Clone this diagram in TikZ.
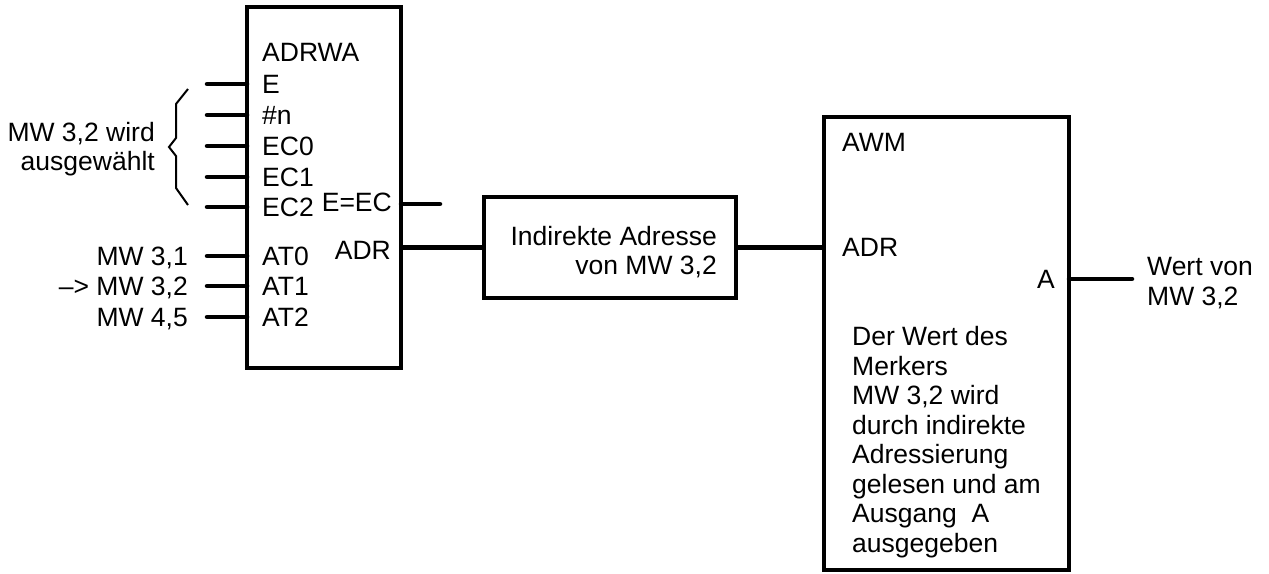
\documentclass[tikz,border=0pt]{standalone}
\usepackage{fontspec}
\setmainfont{Liberation Sans}

\begin{document}
\begin{tikzpicture}[x=1pt,y=-1pt]
    \tikzset{block/.style = {shape=rectangle,draw,line width=4.5pt,inner sep=0pt,outer sep=0pt}}
    \tikzset{pin/.style = {line width=4.5pt,line cap=round}}
    \tikzset{lbl/.style = {inner sep=0pt,font=\fontsize{26.5}{29.5}\selectfont}}
    \useasboundingbox (0,0) rectangle (1269,573);
    \node[block,minimum width=154pt,minimum height=361pt] (adrwa) at (324,187.5) {};
    \node[block,minimum width=252pt,minimum height=101pt] (ind) at (610,247.5) {};
    \node[block,minimum width=245pt,minimum height=453pt] (awm) at (946.5,343.5) {};
    % inputs of ADRWA
    \foreach \i/\y/\t in {1/84/E,2/115/\#n,3/146/EC0,4/177/EC1,5/207/EC2,6/256/AT0,7/286/AT1,8/317/AT2} {
      \coordinate (in\i) at (207,\y);
      \draw[pin] (in\i) -- (in\i -| adrwa.west);
      \node[lbl,anchor=base west] (t\i) at (262,\y+9) {\t};
    }
    \node[lbl,anchor=base west] (n1) at (262,61) {ADRWA};
    \node[lbl,anchor=base east] (n2) at (392,211) {E=EC};
    \node[lbl,anchor=base east] (n3) at (391,259) {ADR};
    \coordinate (qE) at (440,204);
    \draw[pin] (qE -| adrwa.east) -- (qE);
    \node[lbl,anchor=base east] (l1) at (188,265) {MW 3,1};
    \node[lbl,anchor=base east] (l2) at (188,295) {–> MW 3,2};
    \node[lbl,anchor=base east] (l3) at (188,326) {MW 4,5};
    \node[lbl,anchor=east,align=right] (sel) at (155,149) {MW 3,2 wird\\ausgewählt};
    \draw[line width=2pt] (188,89) -- (176,104) -- (176,138) -- (169,147)
      -- (176,156) -- (176,188) -- (188,205);
    % address path
    \draw[pin,line cap=butt] (adrwa.east |- ind.west) -- (ind.west);
    \draw[pin,line cap=butt] (ind.east) -- (ind.east -| awm.west);
    \node[lbl,anchor=east,align=right] (ia) at (717,252) {Indirekte Adresse\\von MW 3,2};
    % AWM
    \node[lbl,anchor=base west] (m1) at (842,151) {AWM};
    \node[lbl,anchor=base west] (m2) at (842,256) {ADR};
    \node[lbl,anchor=base east] (m3) at (1055,288) {A};
    \coordinate (qA) at (1132,279);
    \draw[pin] (qA -| awm.east) -- (qA);
    \node[lbl,anchor=west,align=left] (w) at (1147,283) {Wert von\\MW 3,2};
    \node[lbl,anchor=west,align=left] (txt) at (852,442) {Der Wert des\\Merkers\\MW 3,2 wird\\durch indirekte\\Adressierung\\gelesen und am\\Ausgang\ \ A\\ausgegeben};
  \end{tikzpicture}
\end{document}
